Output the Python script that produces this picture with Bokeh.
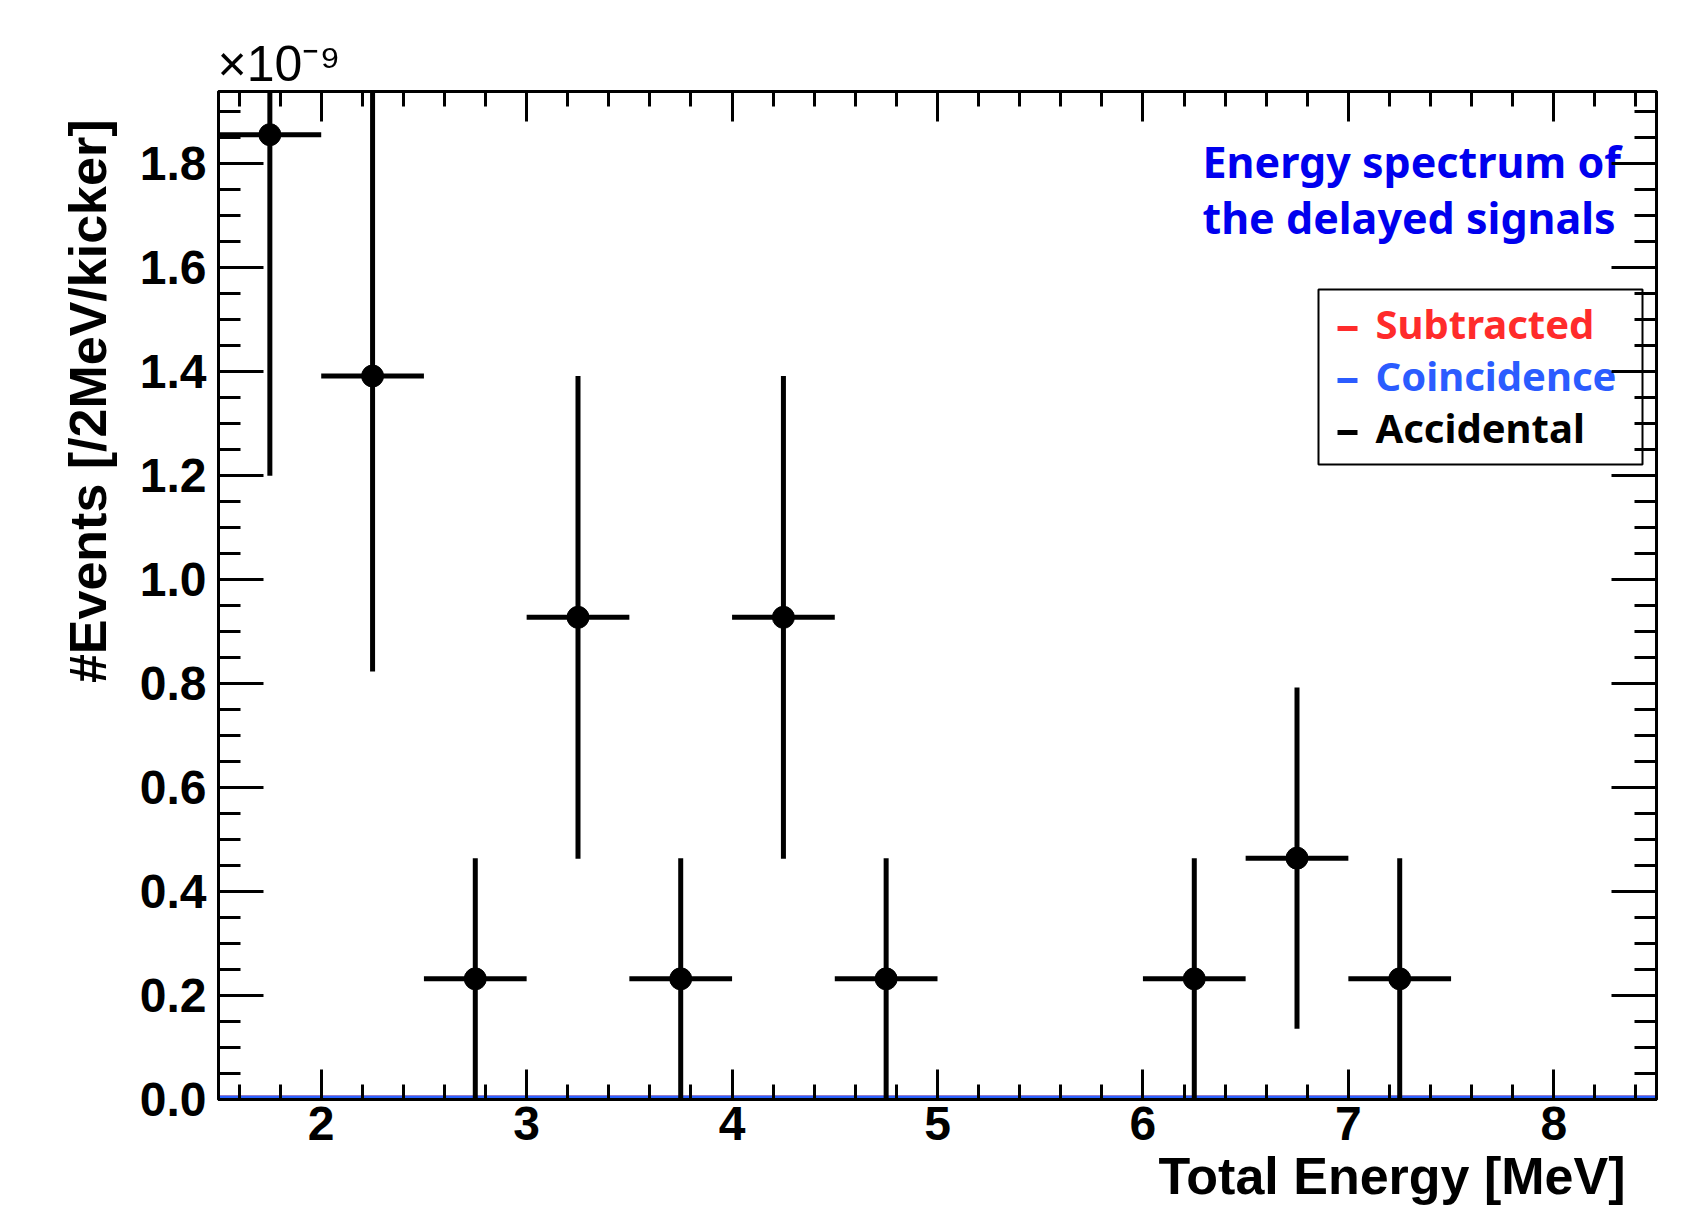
import numpy as np
from bokeh.plotting import figure
from bokeh.models import (Range1d, LinearAxis, FixedTicker, PrintfTickFormatter, Label,
                          BoxAnnotation, Title)
from bokeh.embed import file_html
from bokeh.resources import INLINE

# ---------------- data (units of 1e-9 events / 2MeV / kicker) ----------------
bin_centers = [1.75, 2.25, 2.75, 3.25, 3.75, 4.25, 4.75, 5.25, 5.75, 6.25, 6.75, 7.25, 7.75, 8.25]
bin_width = 0.5
accidental = [1.855, 1.391, 0.232, 0.927, 0.232, 0.927, 0.232, 0.0, 0.0, 0.232, 0.464, 0.232, 0.0, 0.0]
accidental_err = [0.656, 0.568, 0.232, 0.464, 0.232, 0.464, 0.232, 0.0, 0.0, 0.232, 0.328, 0.232, 0.0, 0.0]
coincidence = [0.0, 0.0, 0.0, 0.0, 0.0, 0.0, 0.0, 0.0, 0.0, 0.0, 0.0, 0.0, 0.0, 0.0]
subtracted = [0.0, 0.0, 0.0, 0.0, 0.0, 0.0, 0.0, 0.0, 0.0, 0.0, 0.0, 0.0, 0.0, 0.0]

x_major = [2, 3, 4, 5, 6, 7, 8]
x_minor = [round(v, 2) for v in np.arange(1.6, 8.45, 0.2)]
y_major = [0.0, 0.2, 0.4, 0.6, 0.8, 1.0, 1.2, 1.4, 1.6, 1.8]
y_minor = [round(v, 3) for v in np.arange(0.0, 1.93, 0.05)]

legend_labels = ["Subtracted", "Coincidence", "Accidental"]
legend_colors = ["#ff2b2b", "#2b5cff", "#000000"]
title_lines = ["Energy spectrum of", "the delayed signals"]
x_title = "Total Energy [MeV]"
y_title = "#Events [/2MeV/kicker]"
exponent_text = "\u00d710\u207b\u2079"

X0, X1 = 1.5, 8.5
Y0, Y1 = 0.0, 1.938

# ---------------- layout (pixel coordinates of the frame) ----------------
W, H = 1693, 1206
FL, FR, FT, FB = 218, 1656, 91, 1099

def px(xp):
    return X0 + (xp - FL) / (FR - FL) * (X1 - X0)

def py(yp):
    return Y0 + (FB - yp) / (FB - FT) * (Y1 - Y0)

p = figure(width=W, height=H, x_range=Range1d(X0, X1), y_range=Range1d(Y0, Y1),
           output_backend="svg", toolbar_location=None,
           min_border_left=FL, min_border_right=W - FR,
           min_border_top=FT, min_border_bottom=H - FB)
p.xgrid.grid_line_color = None
p.ygrid.grid_line_color = None
p.background_fill_color = "white"
p.border_fill_color = "white"
p.outline_line_color = "black"
p.outline_line_width = 3

xt = FixedTicker(ticks=x_major, minor_ticks=x_minor)
yt = FixedTicker(ticks=y_major, minor_ticks=y_minor)

def style(ax, tin, minin):
    ax.axis_line_color = "black"
    ax.axis_line_width = 3
    ax.major_tick_in = tin
    ax.major_tick_out = 0
    ax.minor_tick_in = minin
    ax.minor_tick_out = 0
    ax.major_tick_line_width = 3
    ax.minor_tick_line_width = 3
    ax.major_tick_line_color = "black"
    ax.minor_tick_line_color = "black"
    ax.major_label_text_font = "Liberation Sans"
    ax.major_label_text_font_style = "bold"
    ax.major_label_text_font_size = "48px"
    ax.major_label_text_color = "black"

xa = p.xaxis[0]
xa.ticker = xt
xa.formatter = PrintfTickFormatter(format="%d")
style(xa, 30, 15)
xa.major_label_standoff = 7

ya = p.yaxis[0]
ya.ticker = yt
ya.formatter = PrintfTickFormatter(format="%.1f")
style(ya, 45, 22)
ya.major_label_standoff = 12

top = LinearAxis(ticker=xt, formatter=PrintfTickFormatter(format=""))
style(top, 30, 15)
top.major_label_standoff = 0
p.add_layout(top, "above")
right = LinearAxis(ticker=yt, formatter=PrintfTickFormatter(format=""))
style(right, 45, 22)
right.major_label_standoff = 0
p.add_layout(right, "right")

# ---------------- titles in the side panels ----------------
p.add_layout(Title(text=x_title, align="right", offset=31, standoff=4,
                   text_font="Liberation Sans", text_font_style="bold",
                   text_font_size="52px", text_color="black"), "below")
p.add_layout(Title(text=y_title, align="right", offset=28, standoff=40,
                   text_font="Liberation Sans", text_font_style="bold",
                   text_font_size="52px", text_color="black"), "left")
p.add_layout(Title(text=exponent_text, align="left", offset=-1, standoff=0,
                   text_font="Liberation Sans", text_font_style="normal",
                   text_font_size="50px", text_color="black"), "above")

# ---------------- curves at zero ----------------
edges = [c - bin_width / 2 for c in bin_centers] + [bin_centers[-1] + bin_width / 2]
p.step(x=edges, y=subtracted + [subtracted[-1]], mode="after", line_color="#ff2b2b", line_width=8)
p.step(x=edges, y=coincidence + [coincidence[-1]], mode="after", line_color="#2b62ff", line_width=8)

# ---------------- accidental points with errors ----------------
xs = [c for c, v in zip(bin_centers, accidental) if v > 0]
ys = [v for v in accidental if v > 0]
es = [e for v, e in zip(accidental, accidental_err) if v > 0]
p.segment(x0=xs, y0=[y - e for y, e in zip(ys, es)], x1=xs, y1=[y + e for y, e in zip(ys, es)],
          line_color="black", line_width=5)
p.segment(x0=[x - bin_width / 2 for x in xs], y0=ys, x1=[x + bin_width / 2 for x in xs], y1=ys,
          line_color="black", line_width=5)
p.scatter(xs, ys, marker="circle", size=22, fill_color="black", line_color="black")

# ---------------- overlay texts ----------------
for i, t in enumerate(title_lines):
    p.add_layout(Label(x=px(1202), y=py(161 + 56 * i), text=t, text_font="Noto Sans",
                       text_font_style="bold", text_font_size="43px", text_color="#0000ee",
                       text_align="left", text_baseline="alphabetic", level="underlay"))

p.add_layout(BoxAnnotation(left=px(1318), right=px(1642), top=py(289), bottom=py(464),
                           fill_alpha=0, line_color="black", line_alpha=1.0, line_width=2,
                           level="underlay"))
dash_y = [py(328 + 52 * i) for i in range(len(legend_labels))]
p.segment(x0=[px(1337)] * 3, y0=dash_y, x1=[px(1357)] * 3, y1=dash_y,
          line_color=legend_colors, line_width=5)
for i, (t, c) in enumerate(zip(legend_labels, legend_colors)):
    base = 323 + 52 * i
    p.add_layout(Label(x=px(1375), y=py(base), text=t, text_font="Noto Sans",
                       text_font_style="bold", text_font_size="40px", text_color=c,
                       text_align="left", text_baseline="alphabetic", level="underlay"))

open("out.html", "w").write(file_html(p, INLINE))
